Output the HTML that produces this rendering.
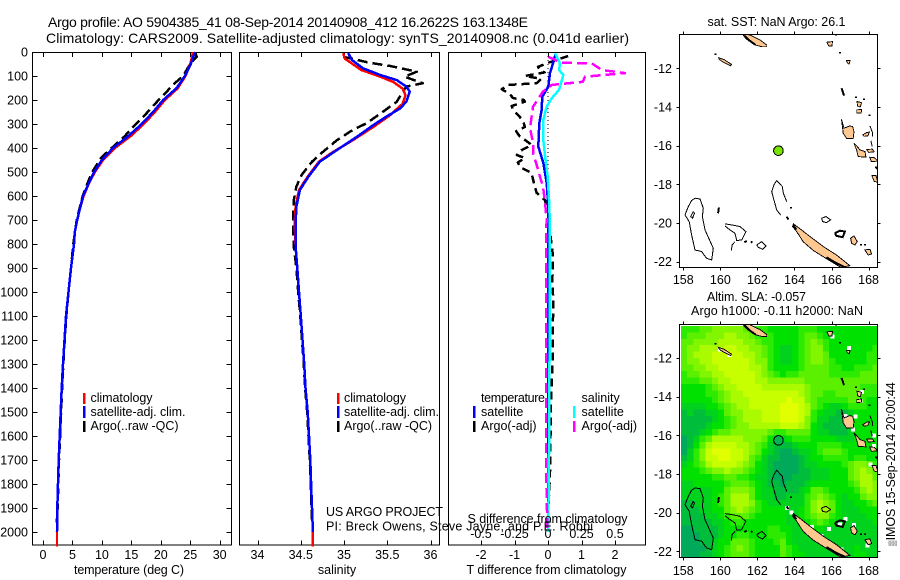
<!DOCTYPE html>
<html>
<head>
<meta charset="utf-8">
<title>Argo profile</title>
<style>
html,body{margin:0;padding:0;background:#fff;}
svg{display:block;}
text{font-family:"Liberation Sans",sans-serif;font-size:12.5px;fill:#000;}
.t{font-size:14px;}
polyline,polygon,path,rect,line,circle{shape-rendering:crispEdges;}
</style>
</head>
<body>
<svg id="fig" xmlns="http://www.w3.org/2000/svg" width="900" height="580" viewBox="0 0 900 580">
<defs>
<clipPath id="clip1"><rect x="679.5" y="34.5" width="198" height="233"/></clipPath>
<clipPath id="clip2"><rect x="679.5" y="324.5" width="198" height="233"/></clipPath>
<clipPath id="clipHeat"><rect x="681" y="326" width="196" height="231"/></clipPath>
</defs>
<rect width="900" height="580" fill="#fff"/>
<text class="t" x="48" y="27" textLength="480">Argo profile: AO 5904385_41 08-Sep-2014 20140908_412 16.2622S 163.1348E</text>
<text class="t" x="46" y="43" textLength="583">Climatology: CARS2009. Satellite-adjusted climatology: synTS_20140908.nc (0.041d earlier)</text>

<g id="panels"></g>
<g id="maps"></g>

<g>
<rect x="83" y="393" width="2.5" height="11" fill="#f00"/>
<rect x="83" y="406" width="2.5" height="12" fill="#00f"/>
<rect x="83" y="421" width="2.5" height="11" fill="#000"/>
<text x="90.5" y="402" textLength="62">climatology</text>
<text x="90.5" y="416" textLength="95">satellite-adj. clim.</text>
<text x="90.5" y="430" textLength="88">Argo(..raw -QC)</text>
</g>
<g>
<rect x="337" y="393" width="2.5" height="11" fill="#f00"/>
<rect x="337" y="406" width="2.5" height="12" fill="#00f"/>
<rect x="337" y="421" width="2.5" height="11" fill="#000"/>
<text x="344" y="402" textLength="62">climatology</text>
<text x="344" y="416" textLength="95">satellite-adj. clim.</text>
<text x="344" y="430" textLength="88">Argo(..raw -QC)</text>
</g>
<g>
<text x="481" y="402" textLength="64">temperature</text>
<text x="481" y="416">satellite</text>
<text x="481" y="430">Argo(-adj)</text>
<text x="581.5" y="402">salinity</text>
<text x="581.5" y="416">satellite</text>
<text x="581.5" y="430">Argo(-adj)</text>
<rect x="473" y="406" width="2.5" height="12" fill="#00f"/>
<rect x="473" y="421" width="2.5" height="11" fill="#000"/>
<rect x="573" y="406" width="2.5" height="12" fill="#0ff"/>
<rect x="573" y="421" width="2.5" height="11" fill="#f0f"/>
</g>

<text x="326" y="516" textLength="117">US ARGO PROJECT</text>
<text x="326" y="530.5" textLength="267">PI: Breck Owens, Steve Jayne, and P.E. Robbi</text>
<text x="467.5" y="523" textLength="160">S difference from climatology</text>

<text x="74" y="574" textLength="110">temperature (deg C)</text>
<text x="337" y="574" text-anchor="middle">salinity</text>
<text x="466.5" y="574" textLength="160">T difference from climatology</text>

<text x="776.5" y="26" text-anchor="middle" textLength="138">sat. SST: NaN Argo: 26.1</text>
<text x="707" y="301" textLength="99">Altim. SLA: -0.057</text>
<text x="691" y="315" textLength="172">Argo h1000: -0.11 h2000: NaN</text>
<text transform="translate(895,546) rotate(-90)"><tspan font-size="8" style="font-size:8px">▒</tspan><tspan textLength="158">IMOS 15-Sep-2014 20:00:44</tspan></text>
</svg>

<script>
// ---------- profile data ----------
const climDepths = [0,50,100,150,200,250,300,350,400,450,500,550,600,650,700,750,800,900,1000,1100,1200,1300,1400,1500,1600,1700,1800,1900,2000,2060];
const climTemp = [25.5,25,24.2,22.9,20.7,19,17.1,14.9,12.2,10.2,8.8,7.75,6.9,6.3,5.8,5.4,5.26,4.75,4.33,3.9,3.65,3.4,3.17,3,2.83,2.66,2.55,2.43,2.38,2.38];
const satDepths = [0,50,100,150,200,250,300,350,400,450,500,550,600,650,700,750,800,900,1000,1100,1200,1300,1400,1500,1600,1700,1800,1900,2000];
const satTemp = [25.8,25.1,24.1,22.7,20.4,18.7,16.75,14.5,11.9,10,8.7,7.7,6.8,6.3,5.8,5.4,5.26,4.75,4.33,3.9,3.65,3.4,3.17,3,2.83,2.66,2.55,2.43,2.38];
const argoTempDepths = [5,20,50,100,140,160,190,225,260,312,350,400,440,500,550,600,700,800,900,1000,1100,1200,1300,1400,1500,1600,1700,1800,1900,1960];
const argoTemp = [25.9,26.1,24.96,23.8,21.9,21.2,20,18.7,17.4,15.3,13.9,11.66,9.9,8.35,7.5,6.74,5.72,5.15,4.75,4.33,3.95,3.68,3.45,3.25,3.08,2.9,2.72,2.6,2.48,2.3];

const climSalDepths = [5,28,75,103,125,153,180,215,264,312,368,417,457,519,575,644,714,811,900,1000,1100,1200,1300,1400,1500,1600,1700,1800,1900,2000,2060];
const climSal = [34.99,35.01,35.2,35.42,35.57,35.68,35.71,35.68,35.53,35.34,35.1,34.87,34.71,34.58,34.48,34.44,34.43,34.44,34.46,34.48,34.5,34.52,34.54,34.555,34.58,34.595,34.61,34.62,34.63,34.64,34.64];
const satSalDepths = [5,33,68,96,117,144,165,207,235,269,304,353,408,457,519,575,644,714,811,900,1000,1100,1200,1300,1400,1500,1600,1700,1800,1900,2000];
const satSal = [35.05,35.09,35.22,35.42,35.61,35.72,35.76,35.72,35.65,35.49,35.34,35.15,34.92,34.72,34.59,34.49,34.45,34.44,34.44,34.46,34.48,34.5,34.52,34.54,34.555,34.58,34.595,34.61,34.62,34.63,34.64];
const argoSalDepths = [20,45,58,82,103,130,144,165,207,249,297,325,367,415,457,512,561,617,686,742,811,900,1000,1100,1200,1300,1400,1500,1600,1700,1800,1900,1960];
const argoSal = [34.99,35.3,35.53,35.84,35.7,35.91,35.72,35.68,35.61,35.45,35.26,35.1,34.92,34.76,34.63,34.51,34.45,34.42,34.41,34.41,34.42,34.45,34.47,34.495,34.515,34.535,34.55,34.575,34.59,34.605,34.615,34.625,34.63];

const tDiffSatDepths = [8,47,88,144,186,242,297,394,462,546,645,700,800,1000,1200,1400,1600,1800,2000];
const tDiffSat = [0.23,0.15,0.06,0.01,-0.17,-0.19,-0.26,-0.29,-0.14,-0.04,0.01,0,0,0,0,0,0,0,0];
const tDiffArgoDepths = [17,33,47,62,75,85,100,112,130,137,155,175,192,200,207,225,242,262,285,312,330,353,370,387,410,429,442,460,479,504,546,587,617,680,750,850,950,1050,1150,1250,1350,1450,1550,1650,1750,1850,1950];
const tDiffArgo = [0.6,0.26,-0.04,-0.3,-0.24,-0.1,-0.69,-0.2,-0.34,-1.18,-1.38,-1.15,-1.04,-0.72,-0.69,-1.08,-1.04,-0.9,-0.75,-0.69,-0.95,-0.84,-0.65,-0.49,-0.8,-0.93,-0.69,-0.9,-0.84,-0.49,-0.42,-0.34,-0.09,0.02,0.06,0.15,0.13,0.16,0.14,0.15,0.12,0.09,0.08,0.07,0.06,0.03,0];
const sDiffSatDepths = [5,47,75,96,130,158,192,228,283,367,436,520,603,728,900,1200,1500,1800,2000];
const sDiffSat = [0.052,0.09,0.082,0.114,0.097,0.082,0.028,-0.01,-0.035,-0.035,-0.022,-0.002,0.007,0.015,0.012,0.012,0.01,0.006,0];
const sDiffArgoDepths = [20,45,47,75,88,103,124,137,165,228,317,379,421,471,520,561,630,700,754,1000,1400,1800,2000];
const sDiffArgo = [0.002,0.1,0.326,0.4,0.575,0.276,0.26,0.028,-0.037,-0.112,-0.134,-0.112,-0.112,-0.084,-0.06,-0.037,-0.022,-0.01,-0.015,-0.015,-0.014,-0.012,-0.004];

const depthTicks = [0,100,200,300,400,500,600,700,800,900,1000,1100,1200,1300,1400,1500,1600,1700,1800,1900,2000];
const tempTicks = [0,5,10,15,20,25,30];
const salTicks = [34,34.5,35,35.5,36];
const salTickLabels = ["34","34.5","35","35.5","36"];
const tDiffTicks = [-2,-1,0,1,2];
const sDiffTicks = [-0.5,-0.25,0,0.25,0.5];

// ---------- map data (lon, lat) ----------
const lonTicks = [158,160,162,164,166,168];
const latTicks = [-12,-14,-16,-18,-20,-22];
const floatLon = 163.1348;
const floatLat = -16.2622;
const landPolys = [
 [[161.24,-10.2],[161.6,-10.28],[162.14,-10.53],[162.5,-10.79],[162.5,-10.88],[162.23,-10.88],[161.87,-10.79],[161.42,-10.5],[161.24,-10.3]],
 [[159.9,-11.45],[160.2,-11.55],[160.6,-11.8],[160.55,-11.87],[160.15,-11.68],[159.95,-11.55]],
 [[165.75,-10.65],[166.05,-10.62],[166.02,-10.85],[165.85,-10.85]],
 [[166.8,-11.6],[167.0,-11.6],[166.95,-11.78],[166.85,-11.72]],
 [[167.38,-13.72],[167.62,-13.78],[167.55,-14],[167.4,-13.95]],
 [[167.36,-14.15],[167.62,-14.12],[167.6,-14.32],[167.36,-14.3]],
 [[166.54,-14.64],[166.67,-15.1],[166.99,-14.98],[167.14,-15.02],[167.21,-15.28],[167.17,-15.62],[166.81,-15.62],[166.63,-15.36]],
 [[167.21,-15.88],[167.39,-16.05],[167.53,-16.22],[167.8,-16.31],[167.86,-16.6],[167.44,-16.57],[167.35,-16.22]],
 [[167.68,-15.45],[167.9,-15.32],[168.05,-15.3],[167.95,-15.5],[167.75,-15.52]],
 [[167.9,-16.2],[168.2,-16.18],[168.3,-16.32],[168.0,-16.35]],
 [[168.06,-16.6],[168.3,-16.62],[168.5,-16.8],[168.15,-16.83]],
 [[168.18,-17.55],[168.4,-17.55],[168.5,-17.9],[168.3,-17.85]],
 [[163.94,-20.05],[164.29,-20.3],[164.83,-20.7],[165.55,-21.22],[166.27,-21.66],[166.99,-22.21],[166.5,-22.3],[165.73,-21.85],[165.01,-21.42],[164.47,-20.97],[164.12,-20.45],[163.9,-20.19]],
 [[167.03,-20.79],[167.21,-20.67],[167.39,-20.97],[167.26,-21.14],[167.08,-21.05]],
 [[167.8,-21.4],[168.07,-21.36],[168.16,-21.6],[167.98,-21.66]]
];
const reefLines = [
 [[158.63,-18.72],[158.9,-18.76],[159.08,-19.24],[159.03,-19.67],[159.17,-20.36],[159.62,-21.31],[159.53,-21.91],[159.26,-21.83],[158.99,-21.48],[158.63,-21.4],[158.45,-20.62],[158.32,-19.93],[158.09,-19.59],[158.27,-19.16],[158.45,-18.84],[158.63,-18.72]],
 [[158.54,-19.41],[158.4,-19.67],[158.5,-19.75],[158.6,-19.5],[158.54,-19.41]],
 [[160.25,-20.05],[160.61,-20.1],[161.06,-20.19],[161.38,-20.45],[161.15,-20.88],[160.88,-20.91],[160.79,-20.53],[160.52,-20.36],[160.25,-20.16]],
 [[160.79,-20.97],[160.62,-21.15],[160.61,-21.43]],
 [[161.96,-21.14],[162.23,-20.97],[162.46,-21.19],[162.28,-21.36],[162.05,-21.26],[161.96,-21.14]],
 [[163.58,-18.9],[163.4,-18.47],[163.34,-18.12],[163.04,-17.81],[162.89,-18.03],[162.77,-18.38],[162.89,-18.81],[163.04,-19.33],[163.25,-19.59]],
 [[165.46,-19.76],[165.7,-19.67],[165.95,-19.84],[165.73,-19.98],[165.52,-19.93],[165.46,-19.76]],
 [[168.07,-14.98],[168.2,-15.3],[168.22,-15.53]],
 [[168.12,-15.75],[168.2,-16.05]]
];
const thickLines = [
 [[159.92,-19.2],[159.88,-19.5]],
 [[161.3,-21.0],[161.42,-20.93]],
 [[161.66,-21.03],[161.72,-20.95]],
 [[163.58,-19.67],[163.67,-19.82]],
 [[166.54,-13.03],[166.6,-13.2],[166.67,-13.41]],
 [[166.18,-20.53],[166.45,-20.4],[166.72,-20.45],[166.6,-20.74],[166.27,-20.67],[166.18,-20.53]],
 [[161.29,-10.3],[161.55,-10.55],[161.9,-10.79]],
 [[163.94,-20.1],[164.1,-20.35]],
 [[165.73,-21.78],[166.2,-22.05],[166.75,-22.3]],
 [[168.5,-17.1],[168.4,-17.2]]
];
const specks = [[159.74,-11.28],[166.45,-11.22],[166.24,-10.28],[167.32,-13.52],[167.75,-13.62],[168.05,-14.45],[167.58,-21.14],[167.8,-21.14],[163.81,-19.22],[165.85,-10.25],[168.4,-17.14]];
const naSpots = [[163.6,-19.75],[163.85,-20.0],[159.98,-11.55],[160.5,-11.85],[166.45,-20.62],[166.75,-20.32],[166.95,-11.48],[166.05,-10.9],[165.85,-20.85],[164.95,-20.75],[165.45,-21.2],[166.0,-21.65],[166.55,-21.9],[166.75,-15.0],[167.15,-15.7],[167.28,-15.02],[167.55,-14.22],[167.65,-13.75],[168.3,-16.55],[168.1,-17.5],[167.95,-21.7],[167.2,-20.65],[168.3,-16.0]];

// SLA levels (0 low ... 9 high), row per 1/3 degree latitude, column per 1/3 degree longitude
const slaGrid = [
[4,4,4,5,5,6,6,6,6,6,5,5,4,4,3,3,3,3,3,4,4,4,3,3,3,3,3,3,3,3,3,3],
[4,5,5,5,6,6,6,7,7,6,6,5,4,4,4,3,3,3,3,4,5,5,4,3,3,3,3,3,3,3,3,3],
[5,5,6,6,6,6,7,7,7,7,6,6,5,4,4,3,3,3,3,4,5,6,5,4,3,3,3,3,3,3,3,3],
[5,6,6,7,7,7,7,8,8,7,7,6,6,5,4,3,2,2,3,4,5,6,6,4,3,3,3,3,3,3,3,4],
[5,6,7,7,7,8,8,8,8,8,7,7,6,5,4,3,2,2,3,4,5,6,6,5,3,3,3,3,3,3,4,4],
[5,6,6,7,7,8,8,8,8,8,8,7,6,6,4,3,2,2,3,4,5,6,6,5,4,3,3,3,3,3,4,4],
[5,5,6,6,7,7,8,8,8,8,8,7,7,6,4,3,3,3,3,4,5,5,5,5,4,4,3,3,4,4,4,5],
[4,5,5,6,6,7,7,8,8,8,8,8,7,6,5,4,3,4,4,5,5,5,5,5,4,4,4,4,4,5,5,5],
[4,4,4,5,5,6,7,7,8,8,8,8,7,7,6,6,6,6,6,6,5,5,5,5,5,5,5,5,5,5,5,5],
[3,3,3,3,4,5,6,7,7,8,8,8,8,7,7,7,7,7,7,7,6,5,5,5,5,5,5,5,5,4,4,4],
[3,3,3,3,4,4,5,6,7,7,8,8,8,8,8,8,8,8,8,7,6,5,5,4,4,5,5,5,5,4,4,4],
[3,3,3,3,3,4,5,6,7,7,7,8,8,8,8,8,8,9,8,8,6,5,4,4,4,4,4,5,5,4,3,3],
[2,2,2,2,3,3,4,5,6,7,7,8,8,8,8,8,9,9,9,8,7,5,4,3,2,2,3,4,4,4,3,3],
[1,2,1,1,2,2,3,5,6,6,7,7,7,8,8,8,9,9,9,8,7,4,3,2,2,1,1,2,3,3,3,3],
[1,1,1,1,1,2,3,4,5,6,7,7,7,8,8,8,9,9,9,8,6,4,2,2,1,1,1,2,3,3,3,3],
[1,1,1,1,2,3,3,4,5,6,6,7,7,7,7,7,8,8,8,7,6,3,2,1,1,1,1,2,3,3,3,3],
[1,1,1,2,3,4,5,5,6,6,6,6,6,6,5,4,4,5,5,5,5,3,2,2,1,1,1,2,3,3,3,3],
[0,1,2,4,5,7,7,7,7,7,6,6,6,5,3,2,2,3,4,4,4,3,3,3,3,2,2,2,3,3,3,3],
[0,1,3,5,7,8,8,8,8,7,7,6,5,4,2,1,1,1,2,3,3,3,4,4,4,4,3,3,3,3,3,3],
[0,2,4,6,8,9,9,9,8,8,7,6,5,3,2,1,0,0,1,2,2,3,4,5,5,5,4,3,3,3,3,3],
[1,2,4,6,8,8,9,9,8,8,7,5,4,2,1,1,0,0,0,1,2,3,3,4,4,4,4,3,4,4,3,3],
[2,3,4,5,7,8,8,8,8,7,6,5,3,2,1,0,0,0,0,1,2,2,3,3,3,3,4,5,6,6,5,4],
[3,3,3,4,5,6,6,7,6,6,5,4,3,2,1,0,0,0,0,1,1,2,2,2,3,3,3,5,6,7,6,5],
[3,3,3,3,3,4,4,5,5,4,4,3,2,2,1,0,0,0,1,1,1,2,2,2,3,3,3,5,6,7,7,5],
[2,2,3,3,3,3,3,4,5,5,5,4,3,2,1,1,0,1,1,1,2,3,3,3,3,3,3,4,5,7,7,6],
[2,2,2,2,2,3,3,5,6,6,6,5,3,2,2,1,1,1,1,2,3,5,5,4,3,3,3,3,4,6,7,6],
[2,2,2,2,2,3,4,5,7,7,7,5,3,2,2,1,1,2,2,2,4,5,6,5,4,3,2,3,3,5,6,6],
[1,1,2,2,2,3,4,5,7,7,7,6,4,3,2,2,2,2,2,2,4,6,7,6,5,3,2,2,3,3,4,5],
[1,1,1,2,2,3,3,5,6,7,6,5,4,3,3,3,3,2,2,3,4,6,7,7,5,3,2,2,2,3,3,3],
[1,1,1,1,2,2,3,4,5,5,5,4,3,3,3,3,3,2,2,3,4,5,6,6,4,3,2,2,2,2,3,3],
[1,1,1,1,1,2,2,3,4,4,3,3,3,3,3,3,3,2,2,2,3,4,5,4,3,2,2,2,2,2,2,3],
[0,0,1,1,1,1,2,3,3,3,3,3,3,3,4,4,3,3,2,2,2,3,3,2,2,2,2,2,2,2,2,2],
[0,0,0,1,1,1,2,3,3,4,4,3,3,3,4,4,4,3,2,2,2,2,2,2,2,2,2,2,2,2,2,2],
[0,0,0,1,1,2,3,3,5,5,5,4,3,3,3,4,5,3,2,2,2,2,2,2,2,2,2,2,2,2,2,2],
[0,0,0,0,1,2,3,4,5,6,5,4,3,3,3,3,5,4,3,2,2,2,2,2,2,2,2,2,3,2,2,2],
[0,0,0,1,1,2,3,4,5,5,5,4,3,3,3,3,5,4,3,3,2,2,2,2,2,2,2,2,3,3,2,2]
];
const slaPalette = ["#00aa5a","#00be3c","#00d21e","#00e100","#2ceb00","#5af000","#82f500","#aafa00","#c8ff00","#e1ff00"];
const gridLonStart = 157.876;
const gridLatStart = -10.34;
const gridStep = 1/3;

// ---------- helpers ----------
const NS = "http://www.w3.org/2000/svg";
function mk(parent, tag, attrs, txt){
  const el = document.createElementNS(NS, tag);
  for (const k in attrs) el.setAttribute(k, attrs[k]);
  if (txt !== undefined) el.textContent = txt;
  parent.appendChild(el);
  return el;
}
const panels = document.getElementById("panels");
const maps = document.getElementById("maps");

const depthY = d => 52 + d * 0.24;
const tempX = t => 43 + t * 5.89;
const salX = s => 257.5 + (s - 34) * 86.5;
const tDiffX = t => 548 + t * 33.5;
const sDiffX = s => 548 + s * 134;
const lonX = lon => 683.3 + (lon - 158) * 18.53;
const latY1 = lat => 68.3 + (-12 - lat) * 19.33;
const latY2 = lat => 358 + (-12 - lat) * 19.33;

function linePts(depths, vals, xf){
  return depths.map((d, i) => xf(vals[i]).toFixed(1) + "," + depthY(d).toFixed(1)).join(" ");
}
function curve(parent, depths, vals, xf, color, dash, width){
  const attrs = {points: linePts(depths, vals, xf), fill: "none", stroke: color, "stroke-width": width || 2.5, "stroke-linejoin": "round"};
  if (dash) attrs["stroke-dasharray"] = dash;
  return mk(parent, "polyline", attrs);
}

// ---------- axes frames ----------
const frames = [[32.5,231.5],[239.5,439.5],[448.5,645.5]];
frames.forEach(f => {
  const r = mk(panels, "rect", {x: f[0], y: 52.5, width: f[1]-f[0], height: 492.5, fill: "none", stroke: "#000", "stroke-width": 1});
  
  
});
// depth axis
depthTicks.forEach(d => {
  const y = Math.round(depthY(d)) + 0.5;
  const a = mk(panels, "path", {d: `M32.5 ${y}H37.5M231.5 ${y}H226.5`, stroke: "#000", "stroke-width": 1});
  
  
  const l = mk(panels, "text", {x: 28, y: depthY(d) + 4.5, "text-anchor": "end"}, String(d));
  
  
});
function xTicks(vals, labels, xf, yLab){
  vals.forEach((v, i) => {
    const x = Math.round(xf(v)) + 0.5;
    const t = mk(panels, "path", {d: `M${x} 545V540.5M${x} 52.5V57`, stroke: "#000", "stroke-width": 1});
    
    
    const l = mk(panels, "text", {x: xf(v), y: yLab, "text-anchor": "middle"}, labels[i]);
    
    
  });
}
xTicks(tempTicks, tempTicks.map(String), tempX, 559);
xTicks(salTicks, salTickLabels, salX, 559);
xTicks(tDiffTicks, tDiffTicks.map(String), tDiffX, 559);
sDiffTicks.forEach(v => {
  const l = mk(panels, "text", {x: sDiffX(v), y: 538, "text-anchor": "middle"}, String(v));
  
  
});

// ---------- temperature panel ----------
let c;
c = curve(panels, argoTempDepths, argoTemp, tempX, "#000", "10 5");


c = curve(panels, climDepths, climTemp, tempX, "#f00");


c = curve(panels, satDepths, satTemp, tempX, "#00f");



// ---------- salinity panel ----------
c = curve(panels, argoSalDepths, argoSal, salX, "#000", "10 5");


c = curve(panels, climSalDepths, climSal, salX, "#f00");


c = curve(panels, satSalDepths, satSal, salX, "#00f");



// ---------- difference panel ----------
c = mk(panels, "line", {x1: tDiffX(0), x2: tDiffX(0), y1: depthY(0), y2: depthY(2000), stroke: "#000", "stroke-width": 1, "stroke-dasharray": "1 3"});


c = curve(panels, tDiffArgoDepths, tDiffArgo, tDiffX, "#000", "8 5");


c = curve(panels, tDiffSatDepths, tDiffSat, tDiffX, "#00f");


c = curve(panels, sDiffSatDepths, sDiffSat, sDiffX, "#0ff");


c = curve(panels, sDiffArgoDepths, sDiffArgo, sDiffX, "#f0f", "10 5");



// ---------- maps ----------
function coast(parent, latY, clipId){
  const g = mk(parent, "g", {"clip-path": `url(#${clipId})`});
  
  
  landPolys.forEach(p => {
    const e = mk(g, "polygon", {points: p.map(q => lonX(q[0]).toFixed(1) + "," + latY(q[1]).toFixed(1)).join(" "), fill: "#ffc891", stroke: "#000", "stroke-width": 0.9});
    
    
  });
  reefLines.forEach(p => {
    const e = mk(g, "polyline", {points: p.map(q => lonX(q[0]).toFixed(1) + "," + latY(q[1]).toFixed(1)).join(" "), fill: "none", stroke: "#000", "stroke-width": 1});
    
    
  });
  thickLines.forEach(p => {
    const e = mk(g, "polyline", {points: p.map(q => lonX(q[0]).toFixed(1) + "," + latY(q[1]).toFixed(1)).join(" "), fill: "none", stroke: "#000", "stroke-width": 2});
    
    
  });
  specks.forEach(q => {
    const e = mk(g, "rect", {x: lonX(q[0]) - 1, y: latY(q[1]) - 1, width: 2, height: 1.5, fill: "#000"});
    
    
  });
}
function mapAxes(parent, latY, top, bottom, labelY){
  const r = mk(parent, "rect", {x: 679.5, y: top, width: 198, height: bottom - top, fill: "none", stroke: "#000", "stroke-width": 1});
  
  
  lonTicks.forEach(v => {
    const x = Math.round(lonX(v)) + 0.5;
    const t = mk(parent, "path", {d: `M${x} ${top}v-3M${x} ${bottom}v3`, stroke: "#000", "stroke-width": 1});
    
    
    const l = mk(parent, "text", {x: lonX(v), y: labelY, "text-anchor": "middle"}, String(v));
    
    
  });
  latTicks.forEach(v => {
    const y = Math.round(latY(v)) + 0.5;
    const t = mk(parent, "path", {d: `M679.5 ${y}h-3M877.5 ${y}h3`, stroke: "#000", "stroke-width": 1});
    
    
    const l = mk(parent, "text", {x: 672, y: latY(v) + 4.5, "text-anchor": "end"}, String(v));
    
    
  });
}

// SST map
coast(maps, latY1, "clip1");
const dot = mk(maps, "circle", {cx: lonX(floatLon), cy: latY1(floatLat), r: 4.8, fill: "#78e600", stroke: "#000", "stroke-width": 1});


mapAxes(maps, latY1, 34.5, 267.5, 284);

// SLA map
const heat = mk(maps, "g", {"clip-path": "url(#clipHeat)"});


slaGrid.forEach((row, r) => {
  row.forEach((v, k) => {
    const x0 = lonX(gridLonStart + k * gridStep), x1 = lonX(gridLonStart + (k + 1) * gridStep);
    const y0 = latY2(gridLatStart - r * gridStep), y1 = latY2(gridLatStart - (r + 1) * gridStep);
    const cell = mk(heat, "rect", {x: x0.toFixed(2), y: y0.toFixed(2), width: (x1 - x0 + 0.4).toFixed(2), height: (y1 - y0 + 0.4).toFixed(2), fill: slaPalette[v]});
    
    
  });
});
naSpots.forEach(q => {
  const s = mk(heat, "rect", {x: lonX(q[0]) - 2, y: latY2(q[1]) - 2, width: 4, height: 4, fill: "#fff"});
  
  
});
coast(maps, latY2, "clip2");
const dot2 = mk(maps, "circle", {cx: lonX(floatLon), cy: latY2(floatLat), r: 4.8, fill: "#00b450", stroke: "#000", "stroke-width": 1});


mapAxes(maps, latY2, 324.5, 557.5, 575);
</script>
</body>
</html>
